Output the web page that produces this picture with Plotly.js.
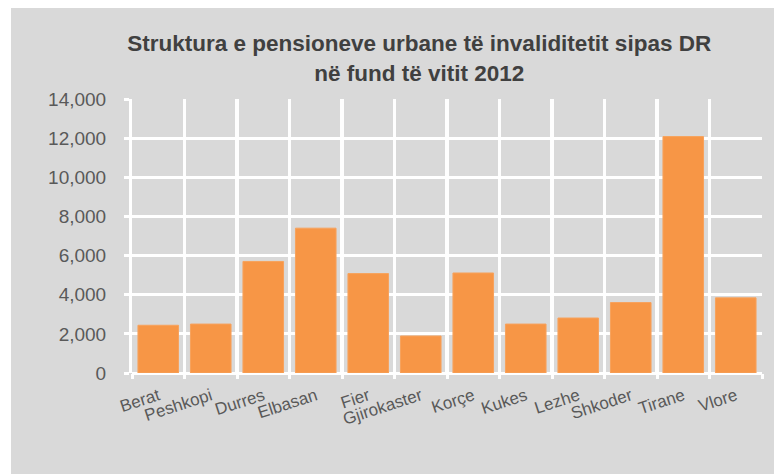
<!DOCTYPE html>
<html>
<head>
<meta charset="utf-8">
<script src="https://cdn.plot.ly/plotly-3.0.1.min.js"></script>
<style>
  html, body { margin: 0; padding: 0; background: #ffffff; width: 774px; height: 474px; overflow: hidden; }
  #chart { position: absolute; left: 11px; top: 8px; width: 763px; height: 466px; }
</style>
</head>
<body>
<div id="chart"></div>
<script>
const categories = ['Berat', 'Peshkopi', 'Durres', 'Elbasan', 'Fier', 'Gjirokaster', 'Korçe', 'Kukes', 'Lezhe', 'Shkoder', 'Tirane', 'Vlore'];
const pensions = [2440, 2500, 5700, 7400, 5080, 1890, 5110, 2500, 2810, 3600, 12080, 3840];
const yTicks = [0, 2000, 4000, 6000, 8000, 10000, 12000, 14000];
const chartTitle = 'Struktura e pensioneve urbane të invaliditetit sipas DR<br>në fund të vitit 2012';

const yMax = yTicks[yTicks.length - 1];

const trace = {
  type: 'bar',
  x: categories,
  y: pensions,
  marker: { color: '#F79646', line: { color: '#F7A25C', width: 1 } },
  hoverinfo: 'x+y'
};

const layout = {
  width: 763,
  height: 466,
  paper_bgcolor: '#D9D9D9',
  plot_bgcolor: '#D9D9D9',
  margin: { l: 121, r: 12, t: 91, b: 101 },
  bargap: 0.227,
  showlegend: false,
  font: { family: 'Liberation Sans, Arial, sans-serif', color: '#595959' },
  title: {
    text: chartTitle,
    font: { family: 'Liberation Sans, Arial, sans-serif', size: 22.5, color: '#404040', weight: 'bold' },
    xref: 'container', x: 0.535, xanchor: 'center',
    yref: 'container', y: 0.907, yanchor: 'top'
  },
  xaxis: {
    type: 'category',
    range: [-0.5, categories.length - 0.5],
    tickson: 'boundaries',
    ticks: 'outside', ticklen: 5, tickwidth: 3, tickcolor: '#FEFEFE',
    showgrid: true, gridcolor: '#FEFEFE', gridwidth: 3.5,
    showline: false,
    tickangle: -18,
    tickfont: { size: 17, color: '#595959' },
    ticklabelstandoff: 9,
    automargin: false
  },
  yaxis: {
    range: [0, yMax],
    tickvals: yTicks,
    tickformat: ',d',
    ticks: 'outside', ticklen: 5, tickwidth: 3, tickcolor: '#FFFFFF',
    showgrid: true, gridcolor: '#FFFFFF', gridwidth: 3,
    zeroline: true, zerolinecolor: '#FFFFFF', zerolinewidth: 3,
    showline: true, linecolor: '#FFFFFF', linewidth: 3,
    tickfont: { size: 19, color: '#595959' },
    ticklabelstandoff: 14,
    automargin: false
  }
};

Plotly.newPlot('chart', [trace], layout, { displayModeBar: false, staticPlot: true });
</script>
</body>
</html>
